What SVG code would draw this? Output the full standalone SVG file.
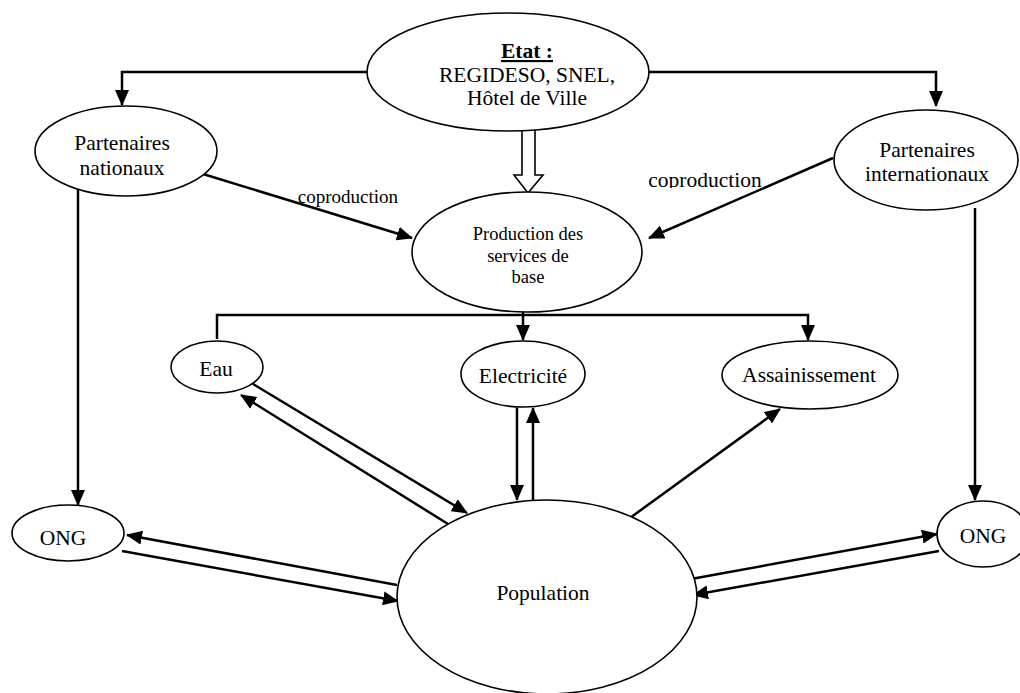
<svg xmlns="http://www.w3.org/2000/svg" width="1020" height="693" viewBox="0 0 1020 693">
<style>
.n{fill:#fff;stroke:#000;stroke-width:1.6}
.t{font-family:"Liberation Serif","Times New Roman",serif;fill:#000;text-anchor:middle;font-size:21.5px}
.c{fill:none;stroke:#000;stroke-width:2.5}
</style>
<defs>
<marker id="ah" markerUnits="userSpaceOnUse" markerWidth="16" markerHeight="14" refX="15" refY="7" orient="auto">
<path d="M0,0 L16,7 L0,14 z" fill="#000"/>
</marker>
<clipPath id="cp"><rect x="640" y="160" width="130" height="28"/></clipPath>
</defs>
<rect width="1020" height="693" fill="#fff"/>
<g id="connectors">
<polyline class="c" points="370,72 122,72 122,105" marker-end="url(#ah)"/>
<polyline class="c" points="646,72 936,72 936,106" marker-end="url(#ah)"/>
<polygon points="522,128 535,128 535,175 543,175 528,193 514,175 522,175" fill="#fff" stroke="#000" stroke-width="1.6"/>
<line class="c" x1="203" y1="174" x2="412" y2="238" marker-end="url(#ah)"/>
<line class="c" x1="833" y1="158" x2="649" y2="238" marker-end="url(#ah)"/>
<polyline class="c" points="217,339 217,315 808,315 808,340" marker-end="url(#ah)"/>
<line class="c" x1="523" y1="310" x2="523" y2="340" marker-end="url(#ah)"/>
<line class="c" x1="78" y1="186" x2="78" y2="505" marker-end="url(#ah)"/>
<line class="c" x1="975" y1="208" x2="975" y2="500" marker-end="url(#ah)"/>
<line class="c" x1="253" y1="384" x2="467" y2="513" marker-end="url(#ah)"/>
<line class="c" x1="448" y1="524" x2="241" y2="395" marker-end="url(#ah)"/>
<line class="c" x1="517" y1="408" x2="517" y2="500" marker-end="url(#ah)"/>
<line class="c" x1="533" y1="501" x2="533" y2="408" marker-end="url(#ah)"/>
<line class="c" x1="623" y1="523" x2="780" y2="409" marker-end="url(#ah)"/>
<line class="c" x1="397" y1="585" x2="127" y2="535" marker-end="url(#ah)"/>
<line class="c" x1="122" y1="551" x2="398" y2="601" marker-end="url(#ah)"/>
<line class="c" x1="691" y1="579" x2="937" y2="534" marker-end="url(#ah)"/>
<line class="c" x1="939" y1="551" x2="693" y2="595" marker-end="url(#ah)"/>
<text class="t" x="348" y="203" style="font-size:19px">coproduction</text>
<text class="t" x="705" y="187" clip-path="url(#cp)">coproduction</text>
</g>
<g id="etat">
<ellipse class="n" cx="508" cy="72" rx="141" ry="59"/>
<text class="t" x="527" y="58" font-weight="bold" text-decoration="underline">Etat :</text>
<text class="t" x="527" y="82">REGIDESO, SNEL,</text>
<text class="t" x="527" y="105">Hôtel de Ville</text>
</g>
<g id="partenaires-nationaux">
<ellipse class="n" cx="126" cy="151" rx="91" ry="45"/>
<text class="t" x="122" y="150">Partenaires</text>
<text class="t" x="122" y="175">nationaux</text>
</g>
<g id="partenaires-internationaux">
<ellipse class="n" cx="926" cy="160" rx="92" ry="50"/>
<text class="t" x="927" y="157">Partenaires</text>
<text class="t" x="927" y="181">internationaux</text>
</g>
<g id="production">
<ellipse class="n" cx="527" cy="252" rx="115" ry="60"/>
<text class="t" x="528" y="240" style="font-size:18.5px">Production des</text>
<text class="t" x="528" y="262" style="font-size:18.5px">services de</text>
<text class="t" x="528" y="283" style="font-size:18.5px">base</text>
</g>
<g id="eau">
<ellipse class="n" cx="217" cy="367" rx="46" ry="26"/>
<text class="t" x="216" y="376">Eau</text>
</g>
<g id="electricite">
<ellipse class="n" cx="523" cy="374" rx="62" ry="33"/>
<text class="t" x="523" y="383">Electricité</text>
</g>
<g id="assainissement">
<ellipse class="n" cx="810" cy="375" rx="88" ry="34"/>
<text class="t" x="809" y="382">Assainissement</text>
</g>
<g id="ong-gauche">
<ellipse class="n" cx="68" cy="533" rx="56" ry="28"/>
<text class="t" x="63" y="545">ONG</text>
</g>
<g id="ong-droite">
<ellipse class="n" cx="983" cy="534" rx="46" ry="33"/>
<text class="t" x="983" y="543">ONG</text>
</g>
<g id="population">
<ellipse class="n" cx="547" cy="597" rx="150" ry="97"/>
<text class="t" x="543" y="600">Population</text>
</g>
</svg>
